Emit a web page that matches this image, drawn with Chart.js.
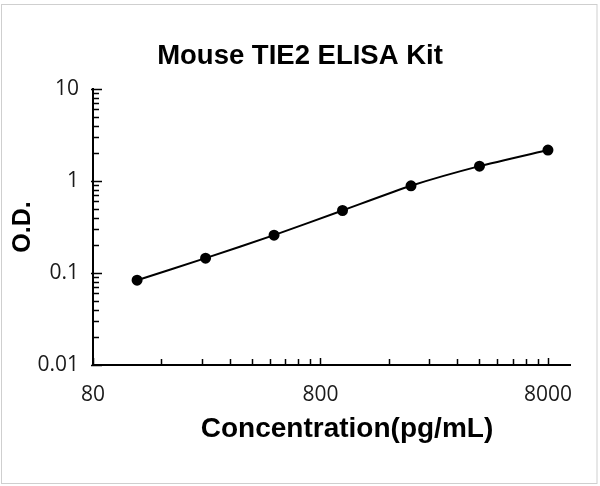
<!DOCTYPE html>
<html>
<head>
<meta charset="utf-8">
<script src="https://cdn.jsdelivr.net/npm/chart.js@4.4.1/dist/chart.umd.min.js"></script>
<style>
  html, body { margin: 0; padding: 0; background: #fff; }
  #wrap { width: 600px; height: 486px; }
</style>
</head>
<body>
<div id="wrap"><canvas id="c" width="600" height="486"></canvas></div>
<script>
// concentration (pg/mL) and optical density
const concentrations = [125, 250, 500, 1000, 2000, 4000, 8000];
const odValues = [0.0835, 0.145, 0.258, 0.478, 0.887, 1.45, 2.17];

// labelled ticks of the two log axes
const xMajorTicks = [80, 800, 8000];
const yMajorTicks = [0.01, 0.1, 1, 10];

const chartTitle = 'Mouse TIE2 ELISA Kit';
const xTitle = 'Concentration(pg/mL)';
const yTitle = 'O.D.';

// minor ticks at every multiple of the decade start, like Excel does
function logTicks(majors, max) {
    const out = [];
    majors.forEach(m => {
        for (let k = 1; k < 10; k++) {
            const v = +(m * k).toPrecision(6);
            if (v <= max) out.push({ value: v, major: k === 1 });
        }
    });
    return out;
}

const isMajor = (list, v) => list.some(m => Math.abs(m - v) < m * 1e-6);

// tick marks drawn inside the plot, plus the grey picture frame and x title
const decorations = {
    id: 'decorations',
    afterDraw(chart) {
        const ctx = chart.ctx;
        const x = chart.scales.x;
        const y = chart.scales.y;
        ctx.save();
        ctx.strokeStyle = '#000';
        ctx.lineWidth = 1.5;
        ctx.beginPath();
        x.ticks.forEach(t => {
            const px = Math.round(x.getPixelForValue(t.value)) + 0.5;
            const len = isMajor(xMajorTicks, t.value) ? 7 : 6;
            ctx.moveTo(px, x.top);
            ctx.lineTo(px, x.top - len);
        });
        y.ticks.forEach(t => {
            const py = Math.round(y.getPixelForValue(t.value)) + 0.5;
            const major = isMajor(yMajorTicks, t.value);
            ctx.moveTo(y.right - (major ? 2 : 0), py);
            ctx.lineTo(y.right + (major ? 9 : 6), py);
        });
        ctx.stroke();

        ctx.fillStyle = '#000';
        ctx.font = 'bold 28px "Liberation Sans", Arial, sans-serif';
        ctx.textAlign = 'center';
        ctx.textBaseline = 'middle';
        ctx.fillText(xTitle, 347, 429);

        ctx.strokeStyle = '#cfcfcf';
        ctx.lineWidth = 1;
        ctx.strokeRect(1.5, 4.5, 595.5, 479);
        ctx.restore();
    }
};

new Chart(document.getElementById('c'), {
    type: 'line',
    data: {
        labels: concentrations,
        datasets: [{
            data: concentrations.map((c, i) => ({ x: c, y: odValues[i] })),
            borderColor: '#000',
            backgroundColor: '#000',
            borderWidth: 2,
            pointRadius: 4.5,
            pointHoverRadius: 4.5,
            tension: 0.2
        }]
    },
    options: {
        responsive: false,
        devicePixelRatio: 1,
        animation: false,
        layout: { padding: { left: 0, right: 0, top: 0, bottom: 0 } },
        plugins: {
            legend: { display: false },
            tooltip: { enabled: false },
            title: {
                display: true,
                text: chartTitle,
                color: '#000',
                font: { family: '"Liberation Sans", Arial, sans-serif', size: 27.5, weight: 'bold' },
                padding: { top: 40, bottom: 16 }
            }
        },
        scales: {
            x: {
                type: 'logarithmic',
                min: 80,
                max: 10000,
                afterBuildTicks: s => { s.ticks = logTicks(xMajorTicks, 8000); },
                afterFit: s => { s.height = 121; },
                grid: { display: false, drawTicks: false },
                border: { display: true, color: '#000', width: 2 },
                ticks: {
                    autoSkip: false,
                    maxRotation: 0,
                    padding: 17,
                    color: '#1a1a1a',
                    font: { family: '"Open Sans", sans-serif', size: 21 },
                    callback: v => isMajor(xMajorTicks, v) ? String(v) : ''
                }
            },
            y: {
                type: 'logarithmic',
                min: 0.01,
                max: 10,
                afterBuildTicks: s => { s.ticks = logTicks(yMajorTicks, 10); },
                afterFit: s => { s.width = 93; },
                grid: { display: false, drawTicks: false },
                border: { display: true, color: '#000', width: 2 },
                title: {
                    display: true,
                    text: yTitle,
                    color: '#000',
                    font: { family: '"Liberation Sans", Arial, sans-serif', size: 25, weight: 'bold' },
                    padding: { top: 8, bottom: 0 }
                },
                ticks: {
                    autoSkip: false,
                    padding: 14,
                    color: '#1a1a1a',
                    font: { family: '"Open Sans", sans-serif', size: 21 },
                    callback: v => isMajor(yMajorTicks, v) ? String(v) : ''
                }
            },
            // empty right-hand axis that keeps the plot 30px from the right edge
            spacer: {
                type: 'linear',
                position: 'right',
                display: true,
                afterFit: s => { s.width = 30; },
                grid: { display: false, drawTicks: false },
                border: { display: false },
                ticks: { display: false }
            }
        }
    },
    plugins: [decorations]
});
</script>
</body>
</html>
